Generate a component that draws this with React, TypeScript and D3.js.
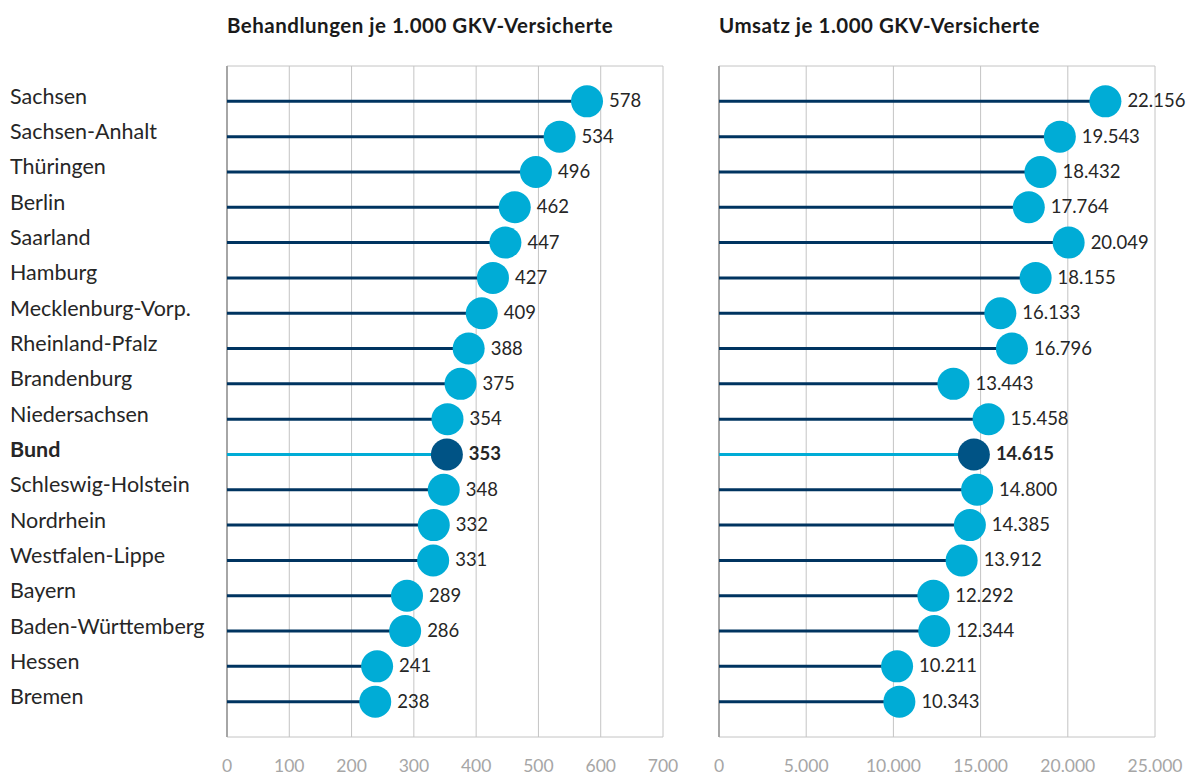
import React from "react";
import * as d3 from "d3";

const regions = [
  "Sachsen", "Sachsen-Anhalt", "Thüringen", "Berlin", "Saarland", "Hamburg",
  "Mecklenburg-Vorp.", "Rheinland-Pfalz", "Brandenburg", "Niedersachsen", "Bund",
  "Schleswig-Holstein", "Nordrhein", "Westfalen-Lippe", "Bayern",
  "Baden-Württemberg", "Hessen", "Bremen",
];
const behandlungen = [578, 534, 496, 462, 447, 427, 409, 388, 375, 354, 353, 348, 332, 331, 289, 286, 241, 238];
const umsatz = [22156, 19543, 18432, 17764, 20049, 18155, 16133, 16796, 13443, 15458, 14615, 14800, 14385, 13912, 12292, 12344, 10211, 10343];
const ticksLeft = [0, 100, 200, 300, 400, 500, 600, 700];
const ticksRight = [0, 5000, 10000, 15000, 20000, 25000];
const highlight = "Bund";

const de = d3.formatLocale({ decimal: ",", thousands: ".", grouping: [3], currency: ["", " €"] });
const fmt = de.format(",d");

const W = 1195, H = 776;
const top = 66, bottom = 737;
const font = "Lato, Carlito, 'Open Sans', sans-serif";

const y = d3.scalePoint<string>().domain(regions).range([top, bottom]).padding(1);

function Panel(props: { title: string; values: number[]; ticks: number[]; x0: number; x1: number; max: number }) {
  const { title, values, ticks, x0, x1, max } = props;
  const x = d3.scaleLinear().domain([0, max]).range([x0, x1]);
  return (
    <g>
      <text x={x0} y={32.5} fontFamily={font} fontWeight={700} fontSize={20.5} letterSpacing={0.5} fill="#1a1a1a">{title}</text>
      {ticks.map((t) => (
        <line key={"g" + t} x1={x(t)} x2={x(t)} y1={top} y2={bottom} stroke="#c4c4c4" strokeWidth={1} />
      ))}
      <line x1={x0} x2={x1} y1={top} y2={top} stroke="#c4c4c4" />
      <line x1={x0} x2={x1} y1={bottom} y2={bottom} stroke="#c4c4c4" />
      <line x1={x0} x2={x0} y1={top} y2={bottom} stroke="#a6a6a6" strokeWidth={2} />
      {ticks.map((t) => (
        <text key={"t" + t} x={x(t)} y={772} textAnchor="middle" fontFamily={font} fontSize={17.5} fill="#a6a6a6">{fmt(t)}</text>
      ))}
      {regions.map((r, i) => {
        const isB = r === highlight;
        const cy = y(r) as number;
        const cx = x(values[i]);
        return (
          <g key={r}>
            <line x1={x0} x2={cx} y1={cy} y2={cy} stroke={isB ? "#00acd6" : "#003460"} strokeWidth={3} />
            <circle cx={cx} cy={cy} r={16} fill={isB ? "#005385" : "#00acd6"} />
            <text x={cx + 22} y={cy + 6} fontFamily={font} fontSize={18.5} fontWeight={isB ? 700 : 400} fill="#262626">{fmt(values[i])}</text>
          </g>
        );
      })}
    </g>
  );
}

export default function App() {
  return (
    <svg width={W} height={H} style={{ position: "fixed", left: 0, top: 0, background: "#fff" }}>
      <rect width={W} height={H} fill="#fff" />
      {regions.map((r) => (
        <text key={r} x={10} y={(y(r) as number) + 2.5} fontFamily={font} fontSize={21.5}
          fontWeight={r === highlight ? 700 : 400} fill="#262626">{r}</text>
      ))}
      <Panel title="Behandlungen je 1.000 GKV-Versicherte" values={behandlungen} ticks={ticksLeft} x0={227} x1={663} max={700} />
      <Panel title="Umsatz je 1.000 GKV-Versicherte" values={umsatz} ticks={ticksRight} x0={719} x1={1155} max={25000} />
    </svg>
  );
}
